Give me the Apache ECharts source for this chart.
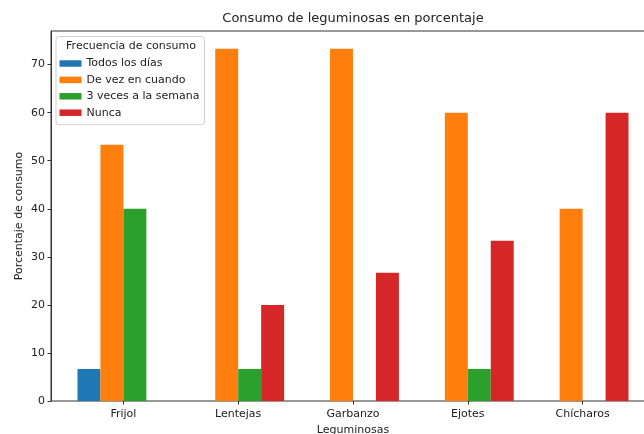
<!DOCTYPE html>
<html>
<head>
<meta charset="utf-8">
<script src="https://cdn.jsdelivr.net/npm/echarts@6/dist/echarts.min.js"></script>
<style>html,body{margin:0;padding:0;background:#fff}#c{width:644px;height:434px}</style>
</head>
<body>
<div id="c"></div>
<script>
var categories = ['Frijol', 'Lentejas', 'Garbanzo', 'Ejotes', 'Chícharos'];
var seriesNames = ['Todos los días', 'De vez en cuando', '3 veces a la semana', 'Nunca'];
var todosLosDias = [6.67, 0, 0, 0, 0];
var deVezEnCuando = [53.33, 73.33, 73.33, 60, 40];
var tresVeces = [40, 6.67, 0, 6.67, 0];
var nunca = [0, 20, 26.67, 33.33, 60];
var yTicks = [0, 10, 20, 30, 40, 50, 60, 70];
var colors = ['#1f77b4', '#ff7f0e', '#2ca02c', '#d62728'];
var FONT = 'DejaVu Sans';

var values = [todosLosDias, deVezEnCuando, tresVeces, nunca];
var chart = echarts.init(document.getElementById('c'));
chart.setOption({
  animation: false,
  backgroundColor: '#fff',
  textStyle: { fontFamily: FONT },
  title: [
    { text: 'Consumo de leguminosas en porcentaje', left: 353, textAlign: 'center', top: 12.5, padding: 0,
      textStyle: { fontFamily: FONT, fontSize: 13, fontWeight: 'normal', color: '#222' } },
    { text: 'Frecuencia de consumo', left: 131, textAlign: 'center', top: 40.5, padding: 0,
      textStyle: { fontFamily: FONT, fontSize: 11, fontWeight: 'normal', color: '#222' } }
  ],
  legend: {
    orient: 'vertical', left: 56, top: 36.5,
    padding: [20.5, 5, 5.5, 3.5],
    borderColor: '#d0d0d0', borderWidth: 1, borderRadius: 3,
    itemWidth: 22, itemHeight: 6.5, itemGap: 3.4, itemTextGap: 9,
    textStyle: { fontFamily: FONT, fontSize: 11, color: '#222', lineHeight: 13 },
    data: seriesNames.map(function (n) { return { name: n, icon: 'rect' }; })
  },
  grid: [
    { left: 51, top: 31, bottom: 33, right: -12, show: true, borderColor: '#333', borderWidth: 1, outerBoundsMode: 'none', containLabel: false },
    { left: 66, top: 31, bottom: 33, right: 4, outerBoundsMode: 'none', containLabel: false }
  ],
  xAxis: [
    { gridIndex: 0, type: 'value', min: 0, max: 1, show: false },
    { gridIndex: 1, type: 'category', data: categories,
      axisLine: { show: false },
      axisTick: { show: true, alignWithLabel: true, length: 3.5, lineStyle: { color: '#333' } },
      axisLabel: { fontFamily: FONT, fontSize: 11, color: '#222', margin: 7.5 },
      name: 'Leguminosas', nameLocation: 'middle', nameGap: 22,
      nameTextStyle: { fontFamily: FONT, fontSize: 11, color: '#222' } }
  ],
  yAxis: [
    { gridIndex: 0, type: 'value', min: 0, max: 77, interval: 10,
      axisLine: { show: true, lineStyle: { color: '#333' } },
      axisTick: { show: true, length: 3.5, customValues: yTicks, lineStyle: { color: '#333' } },
      axisLabel: { fontFamily: FONT, fontSize: 11, color: '#222', margin: 6, customValues: yTicks },
      splitLine: { show: false },
      name: 'Porcentaje de consumo', nameLocation: 'middle', nameGap: 26, nameMoveOverlap: false,
      nameTextStyle: { fontFamily: FONT, fontSize: 11, color: '#222' } },
    { gridIndex: 1, type: 'value', min: 0, max: 77, show: false, splitLine: { show: false } }
  ],
  series: seriesNames.map(function (n, i) {
    return {
      name: n, type: 'bar', xAxisIndex: 1, yAxisIndex: 1,
      data: values[i], barGap: '0%', barCategoryGap: '20%',
      itemStyle: { color: colors[i] }
    };
  })
});
</script>
</body>
</html>
